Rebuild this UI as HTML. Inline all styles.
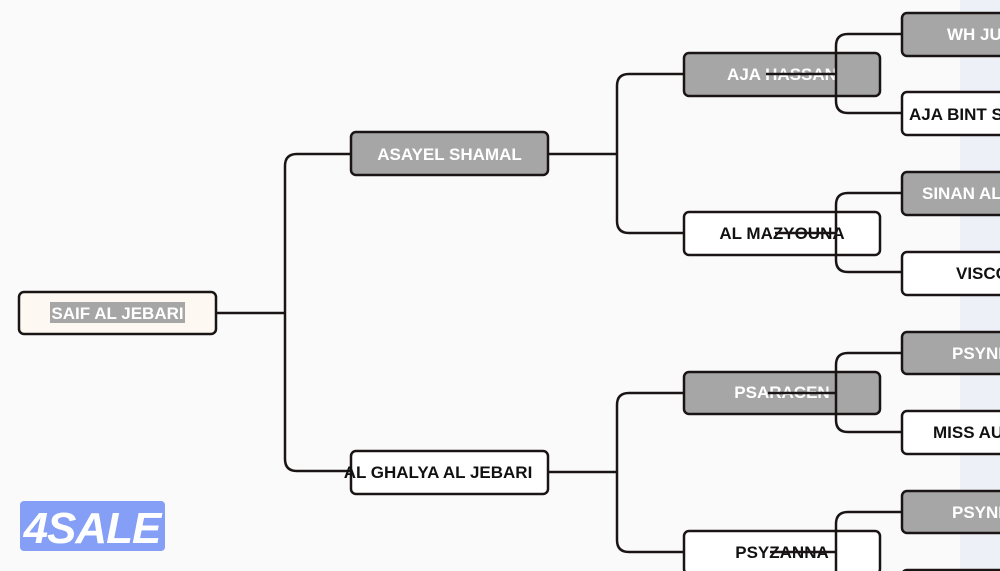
<!DOCTYPE html>
<html><head><meta charset="utf-8"><style>
html,body{margin:0;padding:0;background:#fafafa;width:1000px;height:571px;overflow:hidden;}
svg{display:block;}
text{font-family:"Liberation Sans",Arial,sans-serif;font-weight:bold;font-size:17px;}
</style></head><body>
<svg width="1000" height="571" viewBox="0 0 1000 571">
<rect x="0" y="0" width="1000" height="571" fill="#fafafa"/>
<rect x="960" y="0" width="40" height="571" fill="#eef0f7"/>
<g fill="none" stroke="#1a1414" stroke-width="2.5">
<path d="M216 313 H285"/>
<path d="M351 154 H297 Q285 154 285 166 V459 Q285 471 297 471 H351"/>
<path d="M548 154 H617"/>
<path d="M548 472 H617"/>
<path d="M684 74 H629 Q617 74 617 86 V221 Q617 233 629 233 H684"/>
<path d="M684 393 H629 Q617 393 617 405 V540 Q617 552 629 552 H684"/>
</g>
<g stroke="#1a1414" stroke-width="2.5">
<rect x="19" y="292" width="197" height="42" rx="5" fill="#fdf9f2"/>
<rect x="351" y="132" width="197" height="43" rx="5" fill="#a6a6a6"/>
<rect x="351" y="451" width="197" height="43" rx="5" fill="#fff"/>
<rect x="684" y="53" width="196" height="43" rx="5" fill="#a6a6a6"/>
<rect x="684" y="212" width="196" height="43" rx="5" fill="#fff"/>
<rect x="684" y="372" width="196" height="42" rx="5" fill="#a6a6a6"/>
<rect x="684" y="531" width="196" height="43" rx="5" fill="#fff"/>
<rect x="902" y="13" width="120" height="43" rx="5" fill="#a6a6a6"/>
<rect x="902" y="92" width="120" height="43" rx="5" fill="#fff"/>
<rect x="902" y="172" width="120" height="43" rx="5" fill="#a6a6a6"/>
<rect x="902" y="252" width="120" height="43" rx="5" fill="#fff"/>
<rect x="902" y="332" width="120" height="42" rx="5" fill="#a6a6a6"/>
<rect x="902" y="411" width="120" height="43" rx="5" fill="#fff"/>
<rect x="902" y="491" width="120" height="42" rx="5" fill="#a6a6a6"/>
<rect x="902" y="570" width="120" height="43" rx="5" fill="#fff"/>
</g>
<rect x="50" y="302" width="135" height="21" fill="#a6a6a6"/>
<text x="117.5" y="319" text-anchor="middle" fill="#fff">SAIF AL JEBARI</text>
<text x="449.5" y="160" text-anchor="middle" fill="#fff">ASAYEL SHAMAL</text>
<text x="438" y="478" text-anchor="middle" fill="#111">AL GHALYA AL JEBARI</text>
<text x="782" y="80" text-anchor="middle" fill="#fff">AJA HASSAN</text>
<text x="782" y="239" text-anchor="middle" fill="#111">AL MAZYOUNA</text>
<text x="782" y="398" text-anchor="middle" fill="#fff">PSARACEN</text>
<text x="782" y="558" text-anchor="middle" fill="#111">PSYZANNA</text>
<text x="947" y="40" fill="#fff">WH JUMAN</text>
<text x="909" y="120" fill="#111">AJA BINT SHAMAL</text>
<text x="922" y="199" fill="#fff">SINAN AL</text>
<text x="956" y="279" fill="#111">VISCOUNT</text>
<text x="952" y="359" fill="#fff">PSYNDORA</text>
<text x="933" y="438" fill="#111">MISS AURORA</text>
<text x="952" y="518" fill="#fff">PSYNDORA</text>
<g fill="none" stroke="#1a1414" stroke-width="2.5">
<path d="M766 74 H836"/>
<path d="M902 34 H848 Q836 34 836 46 V101 Q836 113 848 113 H902"/>
<path d="M775 233 H836"/>
<path d="M902 193 H848 Q836 193 836 205 V260 Q836 272 848 272 H902"/>
<path d="M768 393 H836"/>
<path d="M902 353 H848 Q836 353 836 365 V420 Q836 432 848 432 H902"/>
<path d="M770 552 H836"/>
<path d="M902 512 H848 Q836 512 836 524 V571"/>
</g>
<rect x="20" y="501" width="145" height="50" rx="4" fill="#859ef6"/>
<text x="92" y="543" text-anchor="middle" fill="#fff" style="font-size:44px;font-style:italic;font-weight:900;letter-spacing:-1px">4SALE</text>
</svg>
</body></html>
